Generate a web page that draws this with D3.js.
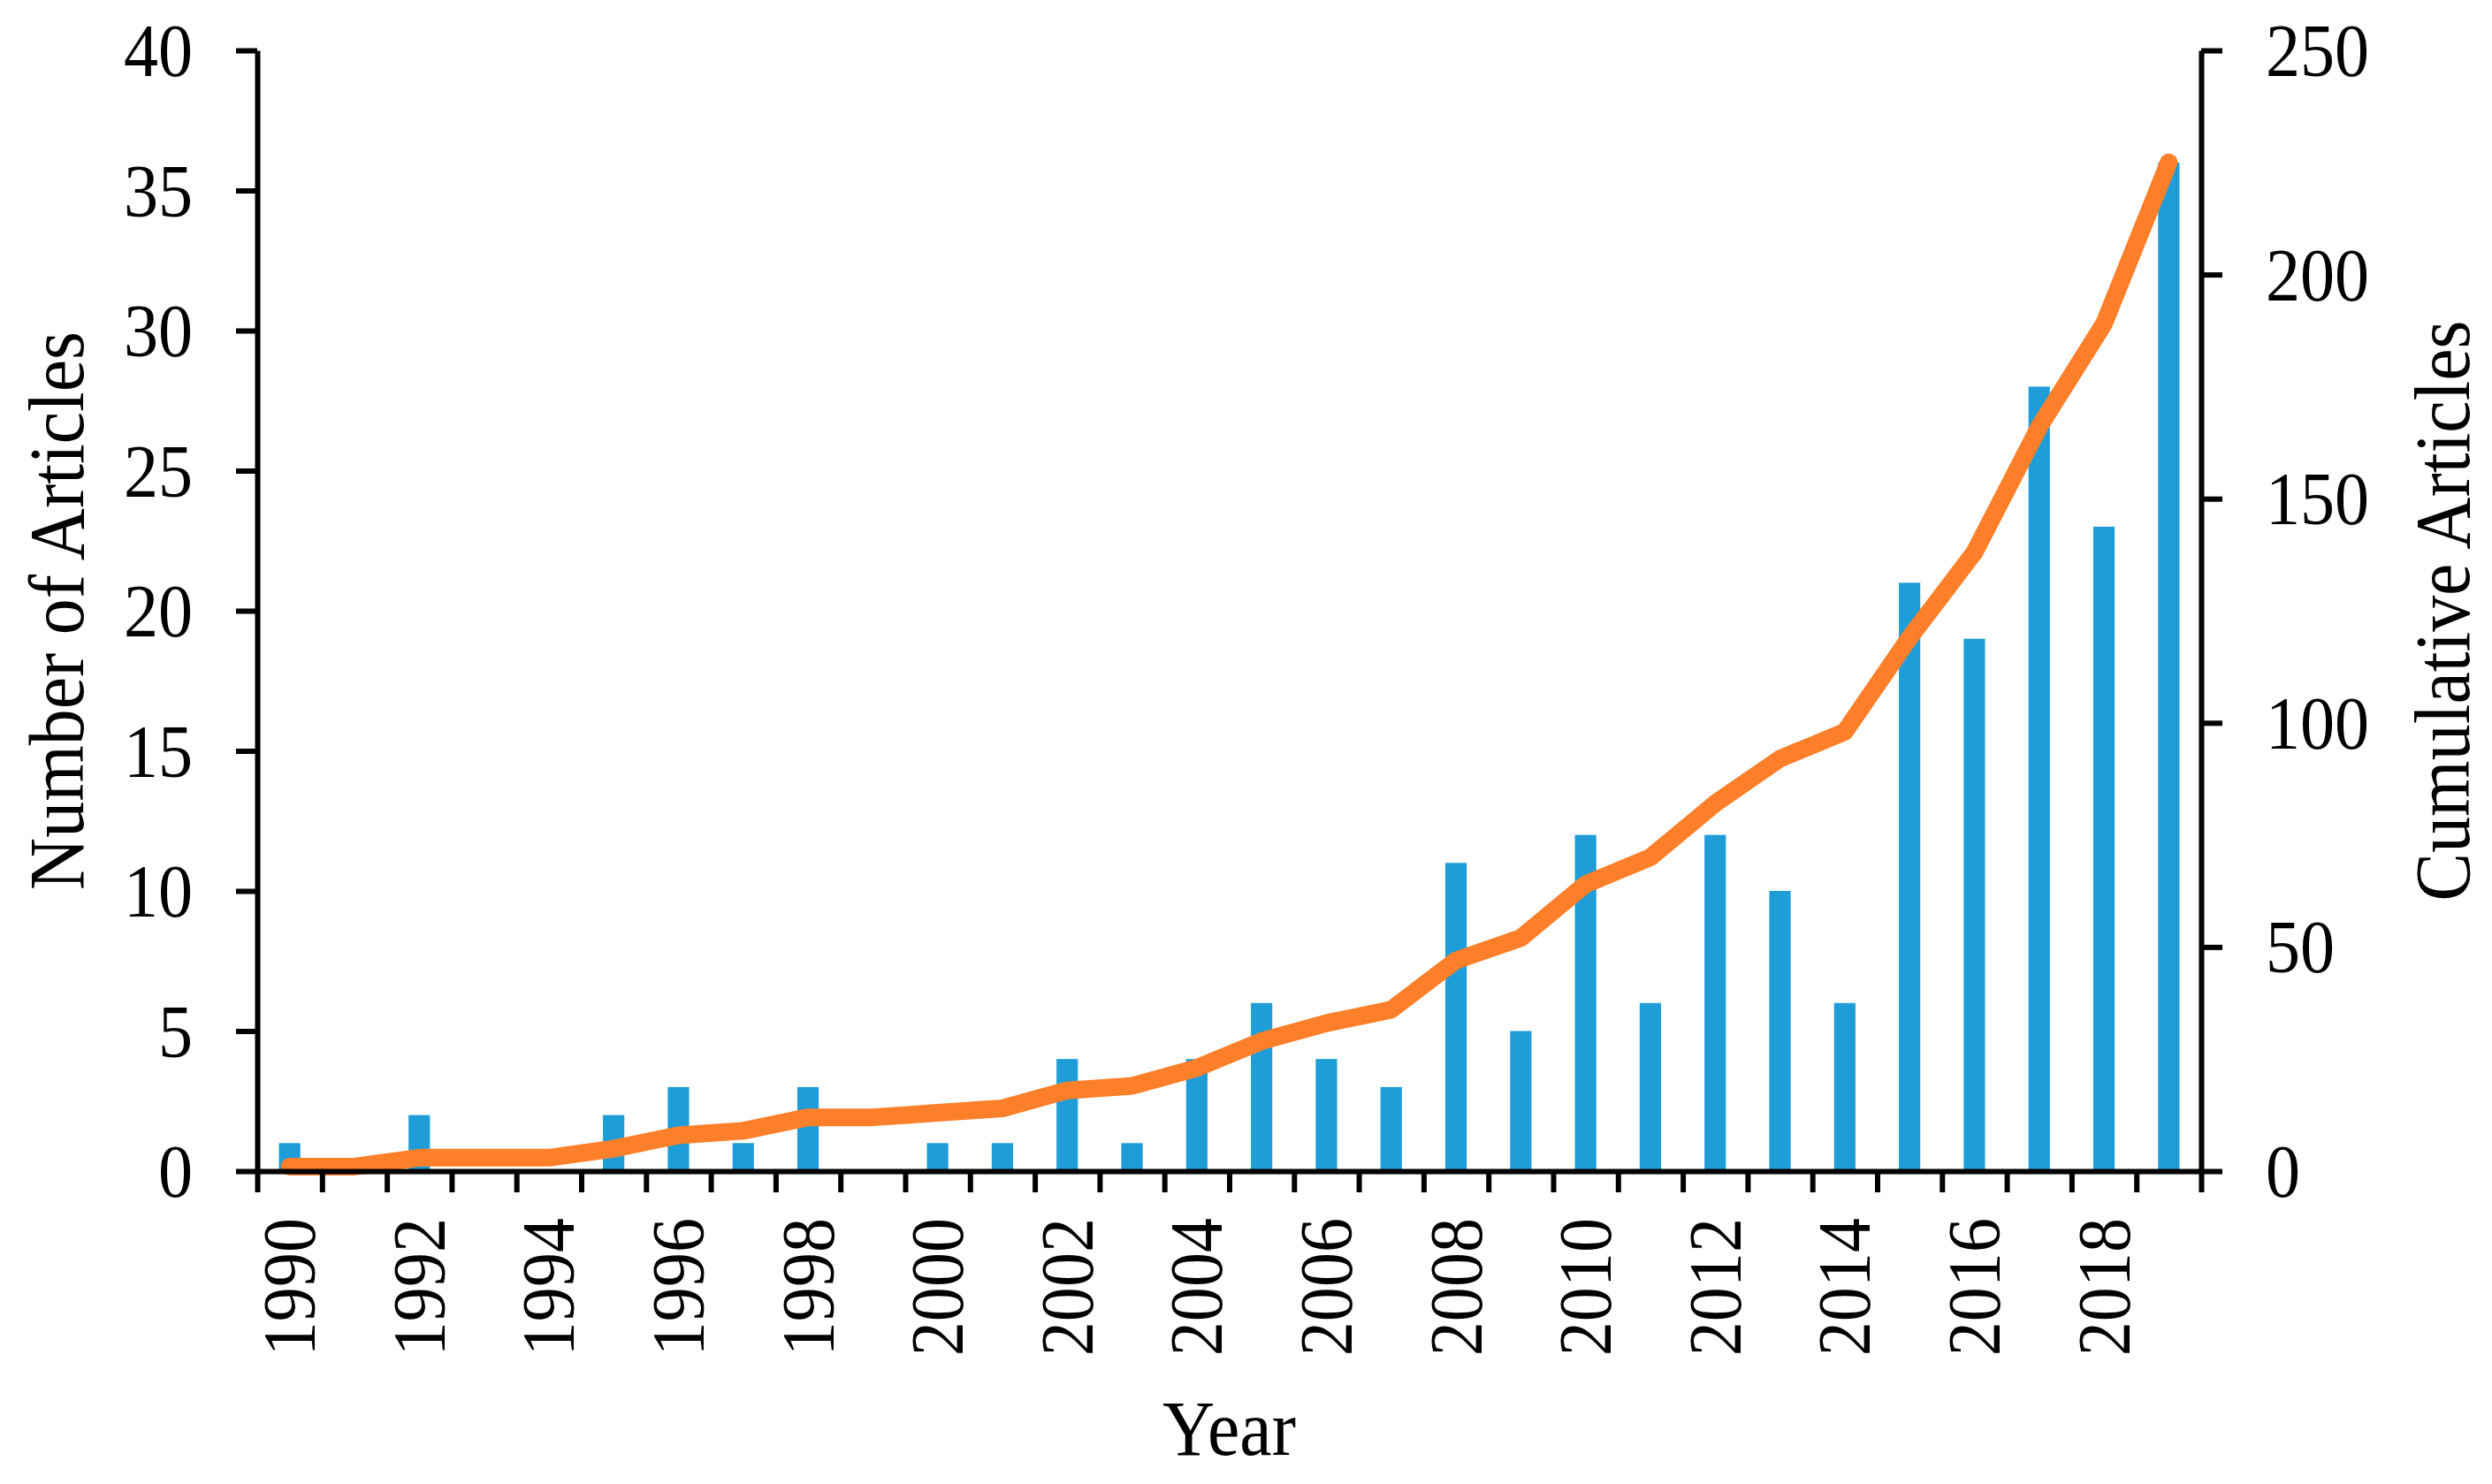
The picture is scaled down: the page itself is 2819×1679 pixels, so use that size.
<!DOCTYPE html>
<html>
<head>
<meta charset="utf-8">
<title>Number of Articles per Year</title>
<script src="https://cdn.jsdelivr.net/npm/d3@7"></script>
<style>
	body { margin: 0; background: #ffffff; }
	svg { display: block; }
	text { font-family: "Liberation Serif", "Times New Roman", serif; fill: #000000; }
</style>
</head>
<body>
<div id="container"></div>
<script>
// values
var years = [1990, 1991, 1992, 1993, 1994, 1995, 1996, 1997, 1998, 1999,
	2000, 2001, 2002, 2003, 2004, 2005, 2006, 2007, 2008, 2009,
	2010, 2011, 2012, 2013, 2014, 2015, 2016, 2017, 2018, 2019];
var articles = [1, 0, 2, 0, 0, 2, 3, 1, 3, 0,
	1, 1, 4, 1, 4, 6, 4, 3, 11, 5,
	12, 6, 12, 10, 6, 21, 19, 28, 23, 36];
var cumulative = [1, 1, 3, 3, 3, 5, 8, 9, 12, 12,
	13, 14, 18, 19, 23, 29, 33, 36, 47, 52,
	64, 70, 82, 92, 98, 119, 138, 166, 189, 225];
var yearLabels = [1990, 1992, 1994, 1996, 1998, 2000, 2002, 2004, 2006, 2008,
	2010, 2012, 2014, 2016, 2018];
var leftTicks = [0, 5, 10, 15, 20, 25, 30, 35, 40];
var rightTicks = [0, 50, 100, 150, 200, 250];

// the original font is a bit narrower than Liberation Serif
var squeeze = 0.93;

window.onload = function() {
	makeChart();
};


function placeText(sel, x, y, rotate) {
	sel.attr("x", null).attr("y", null)
		.attr("transform", "translate(" + x + "," + y + ")" +
			(rotate ? " rotate(" + rotate + ")" : "") +
			" scale(" + squeeze + ",1)");
};


function makeChart() {
	var width = 2819,
		height = 1679,
		left = 291,
		right = 2490,
		top = 57,
		bottom = 1325;

	var svg = d3.select("#container").append("svg")
		.attr("width", width)
		.attr("height", height);

	var x = d3.scaleBand()
		.domain(years)
		.range([left, right])
		.padding(0);

	// tick marks sit on the band edges
	var xEdges = d3.scaleLinear()
		.domain([0, years.length])
		.range([left, right]);

	var yLeft = d3.scaleLinear()
		.domain([0, 40])
		.range([bottom, top]);

	var yRight = d3.scaleLinear()
		.domain([0, 250])
		.range([bottom, top]);

	var barWidth = x.bandwidth() * 0.33;

	svg.selectAll("rect.bar")
		.data(years)
		.enter()
		.append("rect")
		.attr("class", "bar")
		.attr("x", function(d) { return x(d) + (x.bandwidth() - barWidth) / 2; })
		.attr("width", barWidth)
		.attr("y", function(d, i) { return yLeft(articles[i]); })
		.attr("height", function(d, i) { return yLeft(0) - yLeft(articles[i]); })
		.attr("fill", "#1e9dd8");

	var line = d3.line()
		.x(function(d, i) { return x(years[i]) + x.bandwidth() / 2; })
		.y(function(d) { return yRight(d); });

	svg.append("path")
		.datum(cumulative)
		.attr("d", line)
		.attr("fill", "none")
		.attr("stroke", "#fe7f29")
		.attr("stroke-width", 20)
		.attr("stroke-linecap", "round")
		.attr("stroke-linejoin", "round");

	// axes
	var xAxis = svg.append("g")
		.attr("transform", "translate(0," + bottom + ")")
		.call(d3.axisBottom(xEdges)
			.tickValues(d3.range(years.length + 1))
			.tickSize(24)
			.tickSizeOuter(0)
			.tickFormat(""));

	var leftAxis = svg.append("g")
		.attr("transform", "translate(" + left + ",0)")
		.call(d3.axisLeft(yLeft)
			.tickValues(leftTicks)
			.tickSize(24)
			.tickSizeOuter(0)
			.tickPadding(49));

	var rightAxis = svg.append("g")
		.attr("transform", "translate(" + right + ",0)")
		.call(d3.axisRight(yRight)
			.tickValues(rightTicks)
			.tickSize(24)
			.tickSizeOuter(0)
			.tickPadding(49));

	[xAxis, leftAxis, rightAxis].forEach(function(g) {
		g.select(".domain").attr("stroke", "#000").attr("stroke-width", 6);
		g.selectAll(".tick line").attr("stroke", "#000").attr("stroke-width", 6);
		g.selectAll(".tick text")
			.style("font-family", "'Liberation Serif', 'Times New Roman', serif")
			.style("font-size", "84px")
			.attr("fill", "#000")
			.attr("dy", "0.34em");
	});
	placeText(leftAxis.selectAll(".tick text"), -73, 0);
	placeText(rightAxis.selectAll(".tick text"), 73, 0);

	// rotated year labels under every second bar
	svg.selectAll("text.year")
		.data(yearLabels)
		.enter()
		.append("text")
		.attr("class", "year")
		.attr("text-anchor", "end")
		.attr("dy", "0.34em")
		.style("font-size", "84px")
		.text(function(d) { return d; })
		.each(function(d) {
			placeText(d3.select(this), x(d) + x.bandwidth() / 2, bottom + 53, -90);
		});

	placeText(svg.append("text")
		.attr("text-anchor", "middle")
		.style("font-size", "88px")
		.text("Year"), (left + right) / 2, 1646);

	placeText(svg.append("text")
		.attr("text-anchor", "middle")
		.style("font-size", "88px")
		.text("Number of Articles"), 94, (top + bottom) / 2, -90);

	placeText(svg.append("text")
		.attr("text-anchor", "middle")
		.style("font-size", "88px")
		.text("Cumulative Articles"), 2793, (top + bottom) / 2, -90);
};
</script>
</body>
</html>
